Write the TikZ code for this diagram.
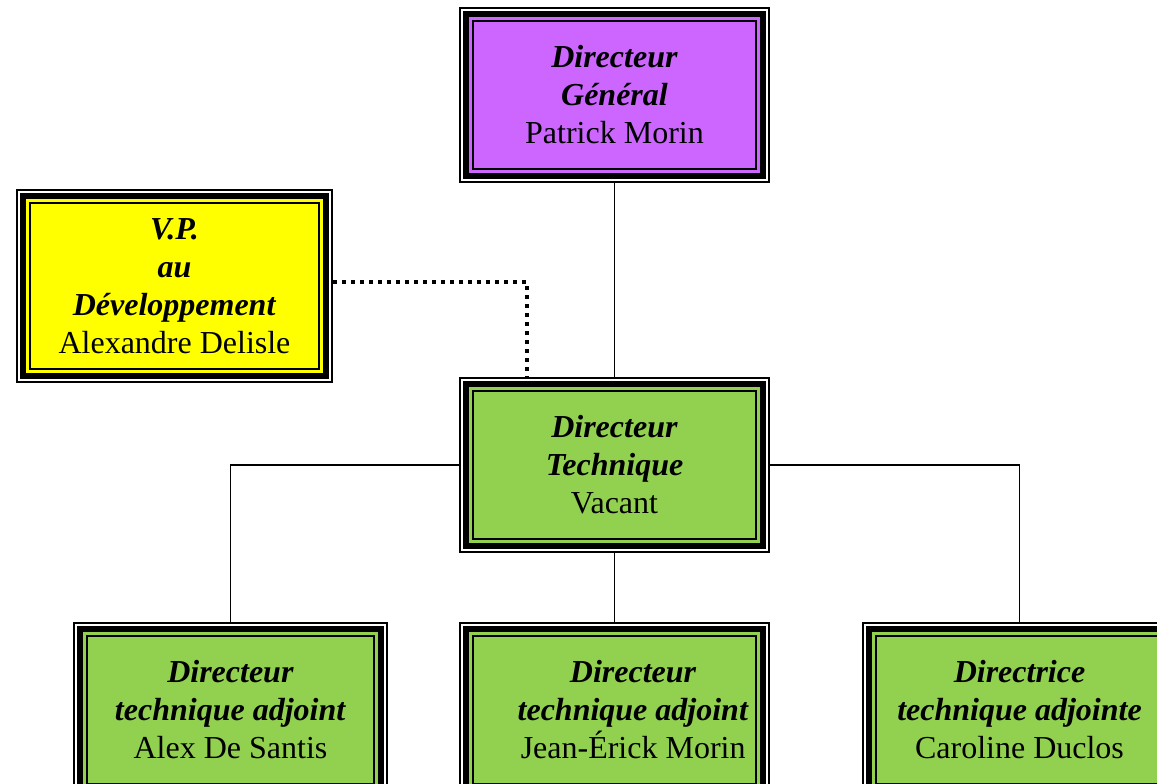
\documentclass[tikz,border=0pt]{standalone}
\usepackage{fontspec}
\setmainfont{Liberation Serif}
\usetikzlibrary{positioning}

\definecolor{violet}{RGB}{204,102,255}
\definecolor{jaune}{RGB}{255,255,0}
\definecolor{vert}{RGB}{146,208,80}

\tikzset{
  orgbox/.style={draw, line width=1.5pt, fill=#1, inner sep=0pt, outer sep=10.3pt,
    align=center, font=\fontsize{24}{28.5}\selectfont,
    preaction={draw, black, line width=20.5pt},
    preaction={draw, white, line width=17.5pt},
    preaction={draw, black, line width=14.5pt},
    preaction={draw, #1, line width=5.5pt}},
  link/.style={draw, line width=1.4pt},
  dotline/.style={draw, line width=3pt, dash pattern=on 3pt off 3.75pt},
}
\newcommand{\titre}[1]{\textbf{\textit{#1}}}
\newcommand{\decal}{\hspace*{28pt}}

\begin{document}
\begin{tikzpicture}[x=0.75pt, y=-0.75pt]
            \useasboundingbox (0,0) rectangle (1157,784);
            \clip (0,0) rectangle (1157,784);

            % boites
            \node[orgbox=violet, minimum width=212.7pt, minimum height=111.5pt] (dg) at (614.5,95)
                {\titre{Directeur}\\ \titre{Général}\\ Patrick Morin};
            \node[orgbox=jaune, minimum width=217.2pt, minimum height=125pt] (vp) at (174.5,286)
                {\titre{V.P.}\\ \titre{au}\\ \titre{Développement}\\ Alexandre Delisle};
            \node[orgbox=vert, minimum width=212.7pt, minimum height=111.5pt] (dt) at (614.5,465)
                {\titre{Directeur}\\ \titre{Technique}\\ Vacant};

            \node[orgbox=vert, minimum width=215.7pt, minimum height=111.5pt] (adj1) at (230.5,710)
                {\titre{Directeur}\\ \titre{technique adjoint}\\ Alex De Santis};
            \node[orgbox=vert, minimum width=212.7pt, minimum height=111.5pt] (adj2) at (614.5,710)
                {\decal\titre{Directeur}\\ \decal\titre{technique adjoint}\\ \decal Jean-Érick Morin};
            \node[orgbox=vert, minimum width=215.7pt, minimum height=111.5pt] (adj3) at (1019.5,710)
                {\titre{Directrice}\\ \titre{technique adjointe}\\ Caroline Duclos};

            % liens
            \draw[link] (dg) -- (dt);
            \draw[link] (dt.west) -| (adj1.north);
            \draw[link] (dt.east) -| (adj3.north);
            \draw[link] (dt) -- (adj2);

            \coordinate (coude) at (527,282);
            \draw[dotline] (vp.east |- coude) -- (coude) -- (coude |- dt.north);
\end{tikzpicture}
\end{document}
